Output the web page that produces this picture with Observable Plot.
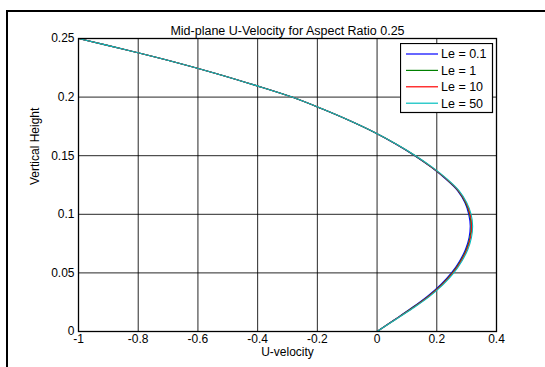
<!DOCTYPE html>
<html>
<head>
<meta charset="utf-8">
<script src="https://cdn.jsdelivr.net/npm/d3@7"></script>
<script src="https://cdn.jsdelivr.net/npm/@observablehq/plot@0.6"></script>
<style>
  html, body { margin: 0; padding: 0; background: #fff; overflow: hidden; }
  #wrap { position: relative; width: 545px; height: 367px; overflow: hidden; }
  #frame { position: absolute; left: 6px; top: 10px; width: 600px; height: 400px;
           border-left: 2px solid #000; border-top: 2px solid #000; }
  #chart { position: absolute; left: 0; top: 0; }
  #legend { position: absolute; left: 400px; top: 43px; }
</style>
</head>
<body>
<div id="wrap"><div id="frame"></div><div id="chart"></div><div id="legend"></div></div>
<script>
// ---- data ----
const heights = [0,0.01,0.02,0.03,0.04,0.05,0.06,0.07,0.08,0.09,0.10,0.11,0.12,0.13,0.14,0.15,0.16,0.17,0.18,0.19,0.20,0.21,0.22,0.23,0.24,0.25];
const uLe01 = [0,0.058,0.115,0.168,0.213,0.249,0.276,0.296,0.308,0.312,0.307,0.294,0.270,0.230,0.182,0.126,0.062,-0.010,-0.093,-0.185,-0.285,-0.407,-0.537,-0.679,-0.835,-1.0];
const uLe1  = [0,0.059,0.117,0.171,0.216,0.252,0.279,0.299,0.311,0.315,0.310,0.296,0.272,0.232,0.183,0.127,0.063,-0.010,-0.093,-0.185,-0.285,-0.407,-0.537,-0.679,-0.835,-1.0];
const uLe10 = [0,0.060,0.119,0.173,0.218,0.254,0.281,0.301,0.313,0.317,0.312,0.298,0.273,0.233,0.184,0.128,0.063,-0.009,-0.092,-0.184,-0.285,-0.407,-0.537,-0.679,-0.835,-1.0];
const uLe50 = [0,0.061,0.121,0.176,0.221,0.257,0.284,0.304,0.316,0.320,0.315,0.300,0.275,0.235,0.186,0.129,0.064,-0.009,-0.092,-0.184,-0.285,-0.407,-0.537,-0.679,-0.835,-1.0];
const seriesNames = ["Le = 0.1", "Le = 1", "Le = 10", "Le = 50"];
const seriesColors = ["#0000ff", "#008000", "#ff0000", "#00bfbf"];
const xTicks = [-1, -0.8, -0.6, -0.4, -0.2, 0, 0.2, 0.4];
const yTicks = [0, 0.05, 0.1, 0.15, 0.2, 0.25];
const titleText = "Mid-plane U-Velocity for Aspect Ratio 0.25";
const xLabel = "U-velocity";
const yLabel = "Vertical Height";

const allSeries = [uLe01, uLe1, uLe10, uLe50];
const data = [];
allSeries.forEach((arr, i) => arr.forEach((u, j) => data.push({series: seriesNames[i], u, y: heights[j]})));

const font = "'Liberation Sans', Arial, sans-serif";
const chart = Plot.plot({
  width: 545, height: 367,
  marginLeft: 78, marginRight: 49, marginTop: 38, marginBottom: 36,
  x: {domain: [-1, 0.4]},
  y: {domain: [0, 0.25]},
  color: {domain: seriesNames, range: seriesColors},
  style: {fontFamily: font, fontSize: "12px", background: "transparent", color: "#000", overflow: "visible"},
  marks: [
    Plot.gridX(xTicks, {stroke: "#000", strokeOpacity: 0.85, strokeWidth: 1}),
    Plot.gridY(yTicks, {stroke: "#000", strokeOpacity: 0.85, strokeWidth: 1}),
    Plot.axisX(xTicks, {tickSize: 0, tickPadding: 3, tickFormat: d => String(d), label: null, fontSize: 12}),
    Plot.axisY(yTicks, {tickSize: 0, tickPadding: 4, tickFormat: d => String(d), label: null, fontSize: 12}),
    Plot.line(data, {x: "u", y: "y", z: "series", stroke: "series", curve: "catmull-rom", strokeWidth: 1.1}),
    Plot.frame({stroke: "#000", strokeWidth: 1.3}),
    Plot.text([titleText], {frameAnchor: "top", dy: -12, fontSize: 12.5, fill: "#000"}),
    Plot.text([xLabel], {frameAnchor: "bottom", dy: 24, fontSize: 12, fill: "#000"}),
    Plot.text([yLabel], {frameAnchor: "left", dx: -43, rotate: -90, fontSize: 12, fill: "#000"})
  ]
});
document.getElementById("chart").appendChild(chart);

// legend
const lw = 92, lh = 69;
const leg = d3.select("#legend").append("svg").attr("width", lw + 2).attr("height", lh + 2)
  .style("font-family", font).style("font-size", "12.5px");
leg.append("rect").attr("x", 0.5).attr("y", 0.5).attr("width", lw).attr("height", lh)
  .attr("fill", "#fff").attr("stroke", "#000").attr("stroke-width", 1.2);
seriesNames.forEach((name, i) => {
  const yy = 11 + i * 16.4;
  leg.append("line").attr("x1", 6).attr("x2", 38).attr("y1", yy).attr("y2", yy)
    .attr("stroke", seriesColors[i]).attr("stroke-width", 1.2);
  leg.append("text").attr("x", 41).attr("y", yy).attr("dy", "0.35em").attr("fill", "#000").text(name);
});
</script>
</body>
</html>
